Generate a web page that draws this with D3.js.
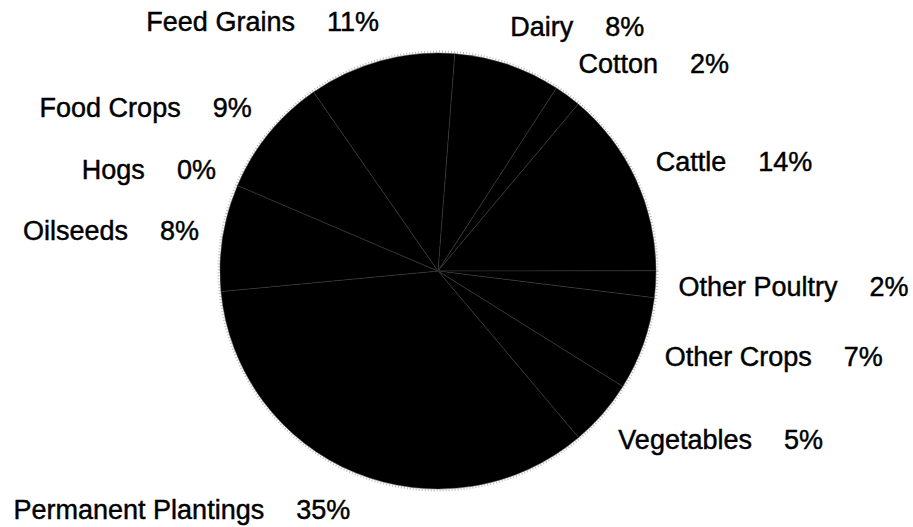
<!DOCTYPE html>
<html>
<head>
<meta charset="utf-8">
<script src="https://cdn.jsdelivr.net/npm/d3@7"></script>
<style>
  body { margin: 0; background: #fff; }
  text { font-family: "Liberation Sans", Arial, sans-serif; font-size: 27px; fill: #000;
         stroke: #000; stroke-width: 0.45px; }
</style>
</head>
<body>
<svg width="913" height="527"></svg>
<script>
// categories in drawing order, clockwise from just right of 12 o'clock
var categories = ["Dairy", "Cotton", "Cattle", "Other Poultry", "Other Crops", "Vegetables",
                  "Permanent Plantings", "Oilseeds", "Hogs", "Food Crops", "Feed Grains"];
var shares = [8, 2, 14, 2, 7, 5, 35, 8, 0, 9, 11];

var svg = d3.select("svg"),
    cx = 438, cy = 271,
    radius = 218;

var start = 4.4 * Math.PI / 180;

var pie = d3.pie()
    .sort(null)
    .value(function(d) { return d.value; })
    .startAngle(start)
    .endAngle(start + 2 * Math.PI);

var data = categories.map(function(c, i) { return {name: c, value: shares[i]}; });
var arcs = pie(data);

var arc = d3.arc().innerRadius(0).outerRadius(radius);

var g = svg.append("g").attr("transform", "translate(" + cx + "," + cy + ")");

// faint halo round the pie edge
g.append("circle")
    .attr("r", radius + 1.5)
    .attr("fill", "none")
    .attr("stroke", "#bbb")
    .attr("stroke-width", 2)
    .attr("stroke-dasharray", "1 2");

g.selectAll("path.slice")
    .data(arcs)
    .enter().append("path")
      .attr("class", "slice")
      .attr("d", arc)
      .attr("fill", "#000")
      .attr("stroke", "#3a3a3a")
      .attr("stroke-width", 0.5);

// labels outside the slices
var labelR = radius + 30;
g.selectAll("text.lab")
    .data(arcs)
    .enter().append("text")
      .attr("class", "lab")
      .each(function(d) {
        var a = (d.startAngle + d.endAngle) / 2,
            s = Math.sin(a), c = Math.cos(a),
            px = labelR * s, py = -labelR * c,
            right = s >= 0;
        var t = d3.select(this)
            .attr("text-anchor", right ? "start" : "end")
            .attr("x", px + (right ? -7 : 6))
            .attr("y", py + 9 - c * 10);
        t.append("tspan").text(d.data.name);
        t.append("tspan").attr("dx", 32).text(d.data.value + "%");
      });
</script>
</body>
</html>
